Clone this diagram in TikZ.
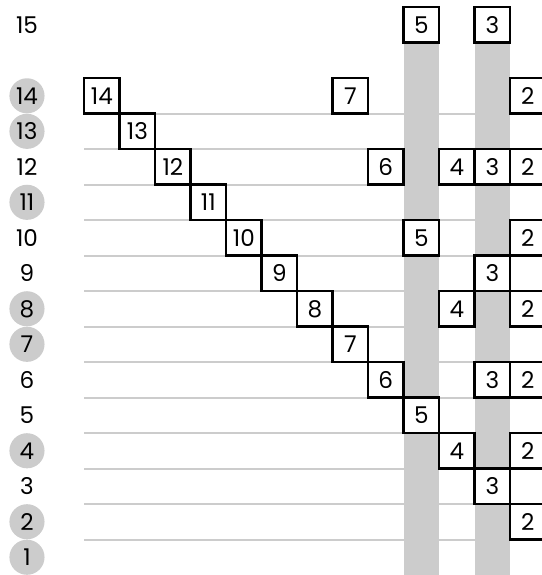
\documentclass[tikz,border=0pt]{standalone}
\usepackage{fontspec}
\setmainfont{Poppins}
\usetikzlibrary{positioning}

\tikzset{
  numbox/.style={draw=black, line width=2pt, fill=white, minimum size=1cm, inner sep=0pt, font=\fontsize{18.5}{18.5}\selectfont},
  rowlab/.style={circle, minimum size=0.99cm, inner sep=0pt, font=\fontsize{18.5}{18.5}\selectfont},
  dotlab/.style={rowlab, fill=gray!40},
  sepline/.style={gray!40, line width=1.6pt},
  strip/.style={fill=gray!40}
}

\begin{document}
\begin{tikzpicture}
    % 1. Khung hình (cắt cạnh phải)
    \clip (0,0) rectangle (15.27,16.2);

    % 2. Các đường kẻ ngang màu xám giữa các hàng
    \foreach \y in {1,...,13}
        \draw[sepline] (2.37,\y) -- (15.4,\y);

    % 3. Hai cột xám dưới ô 5 và ô 3
    \fill[strip] (11.37,0) rectangle (12.37,15);
    \fill[strip] (13.37,0) rectangle (14.37,15);

    % 4. Nhãn các hàng bên trái
    \node[rowlab] (l15) at (0.76,15.5) {15};
    \node[dotlab] (l14) at (0.76,13.5) {14};
    \node[dotlab] (l13) at (0.76,12.5) {13};
    \node[rowlab] (l12) at (0.76,11.5) {12};
    \node[dotlab] (l11) at (0.76,10.5) {11};
    \node[rowlab] (l10) at (0.76,9.5) {10};
    \node[rowlab] (l9) at (0.76,8.5) {9};
    \node[dotlab] (l8) at (0.76,7.5) {8};
    \node[dotlab] (l7) at (0.76,6.5) {7};
    \node[rowlab] (l6) at (0.76,5.5) {6};
    \node[rowlab] (l5) at (0.76,4.5) {5};
    \node[dotlab] (l4) at (0.76,3.5) {4};
    \node[rowlab] (l3) at (0.76,2.5) {3};
    \node[dotlab] (l2) at (0.76,1.5) {2};
    \node[dotlab] (l1) at (0.76,0.5) {1};

    % 5. Các ô số trong từng hàng
    % Hàng 15
    \node[numbox] (r15c5) at (11.87,15.5) {5};
    \node[numbox] (r15c3) at (13.87,15.5) {3};
    % Hàng 14
    \node[numbox] (r14c14) at (2.87,13.5) {14};
    \node[numbox] (r14c7) at (9.87,13.5) {7};
    \node[numbox] (r14c2) at (14.87,13.5) {2};
    % Hàng 13
    \node[numbox] (r13c13) at (3.87,12.5) {13};
    % Hàng 12
    \node[numbox] (r12c12) at (4.87,11.5) {12};
    \node[numbox] (r12c6) at (10.87,11.5) {6};
    \node[numbox] (r12c4) at (12.87,11.5) {4};
    \node[numbox] (r12c3) at (13.87,11.5) {3};
    \node[numbox] (r12c2) at (14.87,11.5) {2};
    % Hàng 11
    \node[numbox] (r11c11) at (5.87,10.5) {11};
    % Hàng 10
    \node[numbox] (r10c10) at (6.87,9.5) {10};
    \node[numbox] (r10c5) at (11.87,9.5) {5};
    \node[numbox] (r10c2) at (14.87,9.5) {2};
    % Hàng 9
    \node[numbox] (r9c9) at (7.87,8.5) {9};
    \node[numbox] (r9c3) at (13.87,8.5) {3};
    % Hàng 8
    \node[numbox] (r8c8) at (8.87,7.5) {8};
    \node[numbox] (r8c4) at (12.87,7.5) {4};
    \node[numbox] (r8c2) at (14.87,7.5) {2};
    % Hàng 7
    \node[numbox] (r7c7) at (9.87,6.5) {7};
    % Hàng 6
    \node[numbox] (r6c6) at (10.87,5.5) {6};
    \node[numbox] (r6c3) at (13.87,5.5) {3};
    \node[numbox] (r6c2) at (14.87,5.5) {2};
    % Hàng 5
    \node[numbox] (r5c5) at (11.87,4.5) {5};
    % Hàng 4
    \node[numbox] (r4c4) at (12.87,3.5) {4};
    \node[numbox] (r4c2) at (14.87,3.5) {2};
    % Hàng 3
    \node[numbox] (r3c3) at (13.87,2.5) {3};
    % Hàng 2
    \node[numbox] (r2c2) at (14.87,1.5) {2};
\end{tikzpicture}
\end{document}
